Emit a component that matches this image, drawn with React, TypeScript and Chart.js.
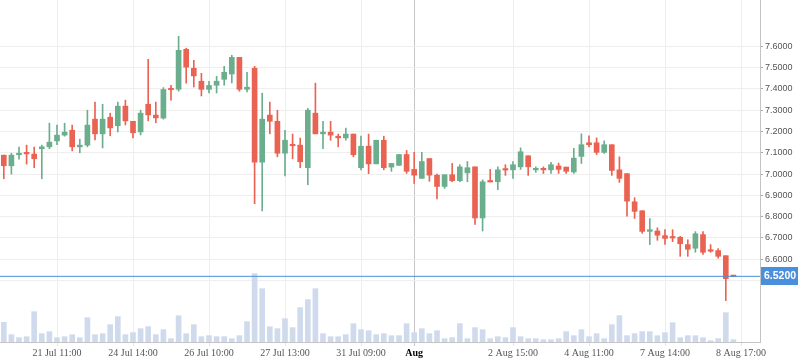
import React, { useEffect, useRef } from 'react';
import { Chart, registerables } from 'chart.js';
Chart.register(...registerables);

// Candle data (index = bar number, oldest first)
const opens = [
  7.089, 7.039, 7.091, 7.097, 7.094, 7.119, 7.128, 7.156, 7.183, 7.206,
  7.128, 7.136, 7.258, 7.189, 7.267, 7.227, 7.319, 7.248, 7.198, 7.328,
  7.277, 7.263, 7.398, 7.398, 7.586, 7.497, 7.436, 7.398, 7.417, 7.445,
  7.470, 7.548, 7.398, 7.497, 7.056, 7.277, 7.248, 7.098, 7.137, 7.136,
  7.030, 7.286, 7.189, 7.197, 7.178, 7.170, 7.188, 7.030, 7.131, 7.048,
  7.159, 7.033, 7.041, 7.092, 7.022, 6.980, 7.073, 6.995, 6.942, 6.997,
  6.969, 7.006, 7.034, 6.794, 6.966, 6.964, 7.021, 7.020, 7.034, 7.086,
  7.020, 7.023, 7.020, 7.038, 7.033, 7.010, 7.083, 7.147, 7.147, 7.102,
  7.138, 7.020, 7.002, 6.870, 6.828, 6.731, 6.733, 6.711, 6.702, 6.703,
  6.669, 6.652, 6.716, 6.640, 6.641, 6.617, 6.521,
];
const highs = [
  7.089, 7.098, 7.127, 7.136, 7.127, 7.136, 7.239, 7.230, 7.239, 7.230,
  7.164, 7.300, 7.338, 7.328, 7.286, 7.338, 7.347, 7.248, 7.300, 7.539,
  7.338, 7.406, 7.417, 7.647, 7.591, 7.534, 7.473, 7.436, 7.459, 7.506,
  7.558, 7.548, 7.478, 7.506, 7.380, 7.338, 7.300, 7.206, 7.188, 7.169,
  7.309, 7.427, 7.248, 7.248, 7.188, 7.216, 7.188, 7.178, 7.188, 7.159,
  7.178, 7.050, 7.092, 7.111, 7.102, 7.102, 7.073, 7.000, 6.997, 7.050,
  7.044, 7.059, 7.034, 6.973, 7.022, 7.034, 7.044, 7.059, 7.123, 7.086,
  7.034, 7.034, 7.055, 7.052, 7.033, 7.121, 7.189, 7.180, 7.170, 7.156,
  7.138, 7.081, 7.002, 6.889, 6.828, 6.791, 6.748, 6.739, 6.739, 6.708,
  6.692, 6.730, 6.730, 6.669, 6.650, 6.617, 6.522,
];
const lows = [
  6.978, 7.000, 7.070, 7.047, 7.030, 6.978, 7.119, 7.138, 7.178, 7.109,
  7.100, 7.128, 7.161, 7.123, 7.180, 7.198, 7.231, 7.170, 7.184, 7.250,
  7.241, 7.258, 7.347, 7.389, 7.427, 7.409, 7.367, 7.381, 7.381, 7.417,
  7.428, 7.389, 7.386, 6.861, 6.827, 7.189, 7.081, 6.992, 7.072, 7.030,
  6.950, 7.189, 7.119, 7.159, 7.128, 7.159, 7.081, 7.020, 7.002, 7.048,
  7.020, 7.013, 7.041, 7.003, 6.956, 6.980, 6.966, 6.884, 6.933, 6.964,
  6.964, 6.964, 6.764, 6.733, 6.963, 6.927, 6.994, 6.980, 7.022, 6.994,
  7.008, 7.003, 7.003, 7.003, 7.003, 7.003, 7.050, 7.128, 7.092, 7.097,
  6.994, 6.961, 6.802, 6.792, 6.722, 6.669, 6.689, 6.670, 6.683, 6.614,
  6.614, 6.633, 6.623, 6.633, 6.605, 6.406, 6.518,
];
const closes = [
  7.039, 7.089, 7.098, 7.095, 7.072, 7.128, 7.150, 7.183, 7.197, 7.128,
  7.136, 7.230, 7.189, 7.258, 7.217, 7.319, 7.250, 7.194, 7.286, 7.278,
  7.264, 7.397, 7.396, 7.581, 7.502, 7.461, 7.398, 7.416, 7.436, 7.478,
  7.548, 7.398, 7.408, 7.056, 7.258, 7.248, 7.098, 7.159, 7.133, 7.058,
  7.300, 7.189, 7.197, 7.183, 7.170, 7.188, 7.091, 7.131, 7.048, 7.159,
  7.030, 7.050, 7.092, 7.013, 6.995, 7.059, 6.995, 6.942, 6.997, 6.969,
  7.034, 7.030, 6.794, 6.964, 6.963, 7.020, 7.019, 7.044, 7.105, 7.034,
  7.023, 7.020, 7.044, 7.022, 7.013, 7.075, 7.138, 7.138, 7.102, 7.138,
  7.017, 6.980, 6.873, 6.825, 6.731, 6.739, 6.713, 6.698, 6.700, 6.673,
  6.647, 6.720, 6.633, 6.638, 6.614, 6.509, 6.519,
];
const volumes = [
  59, 22, 13, 16, 91, 25, 31, 13, 16, 22,
  13, 73, 22, 25, 52, 76, 22, 28, 40, 46,
  22, 37, 10, 79, 25, 52, 16, 19, 16, 16,
  10, 19, 61, 205, 160, 46, 40, 70, 43, 103,
  127, 160, 25, 16, 16, 22, 55, 37, 34, 22,
  25, 19, 19, 55, 28, 40, 25, 34, 10, 13,
  55, 10, 43, 37, 10, 16, 13, 43, 16, 10,
  10, 7, 7, 10, 31, 19, 37, 16, 25, 10,
  52, 79, 19, 25, 31, 31, 19, 28, 58, 13,
  19, 19, 13, 4, 10, 88, 7,
];

const tickPositions = [7, 17, 27, 37, 47, 54, 67, 77, 87, 97];
const tickLabels = [
  '21 Jul 11:00', '24 Jul 14:00', '26 Jul 10:00', '27 Jul 13:00', '31 Jul 09:00',
  'Aug', '2 Aug 15:00', '4 Aug 11:00', '7 Aug 14:00', '8 Aug 17:00',
];
const monthTick = 54;
const priceTicks = [6.5, 6.6, 6.7, 6.8, 6.9, 7.0, 7.1, 7.2, 7.3, 7.4, 7.5, 7.6];
const lastPrice = 6.52;

const GREEN = '#6bae8e';
const RED = '#ea6252';
const BLUE = '#4a8fdb';

const badgePlugin = {
  id: 'lastPriceBadge',
  afterDraw(chart: any) {
    const y = chart.scales.y.getPixelForValue(lastPrice);
    const x0 = chart.chartArea.right;
    const ctx = chart.ctx;
    ctx.save();
    ctx.fillStyle = BLUE;
    ctx.fillRect(x0 + 1, Math.round(y) - 9, 37, 18);
    ctx.fillStyle = '#ffffff';
    ctx.font = 'bold 10.5px "Liberation Sans"';
    ctx.textBaseline = 'middle';
    ctx.textAlign = 'left';
    ctx.fillText(lastPrice.toFixed(4), x0 + 4, Math.round(y) + 0.5);
    ctx.restore();
  },
};

export default function App() {
  const ref = useRef<HTMLCanvasElement>(null);
  useEffect(() => {
    document.body.style.margin = '0';
    const colors = opens.map((o, i) => (closes[i] >= o ? GREEN : RED));
    const chart = new Chart(ref.current!, {
      type: 'bar',
      data: {
        datasets: [
          {
            type: 'line',
            data: [{ x: -0.5, y: lastPrice }, { x: 99.5, y: lastPrice }],
            borderColor: BLUE,
            borderWidth: 1,
            pointRadius: 0,
            yAxisID: 'y',
            order: 0,
          } as any,
          {
            data: opens.map((o, i) => ({ x: i, y: [Math.min(o, closes[i]), Math.max(o, closes[i])] })),
            backgroundColor: colors,
            barThickness: 5,
            minBarLength: 1.5,
            grouped: false,
            yAxisID: 'y',
            order: 1,
          } as any,
          {
            data: lows.map((l, i) => ({ x: i, y: [l, highs[i]] })),
            backgroundColor: colors,
            barThickness: 1,
            grouped: false,
            yAxisID: 'y',
            order: 2,
          } as any,
          {
            data: volumes.map((v, i) => ({ x: i, y: v })),
            backgroundColor: '#cfdbec',
            barThickness: 5,
            grouped: false,
            yAxisID: 'yv',
            order: 3,
          } as any,
        ],
      },
      options: {
        responsive: false,
        animation: false,
        devicePixelRatio: 1,
        layout: { padding: 0 },
        plugins: { legend: { display: false }, tooltip: { enabled: false } },
        scales: {
          x: {
            type: 'linear',
            min: -0.5,
            max: 99.5,
            offset: false,
            afterBuildTicks: (s: any) => {
              s.ticks = tickPositions.map((v) => ({ value: v }));
            },
            afterFit: (s: any) => {
              s.height = 21;
              s.paddingLeft = 0;
              s.paddingRight = 0;
            },
            grid: {
              offset: false,
              color: (c: any) => (c.tick && c.tick.value === monthTick ? '#c6c6c6' : '#eeeeee'),
              tickColor: (c: any) => (c.tick && c.tick.value === monthTick ? '#c6c6c6' : '#e4e4e4'),
              tickLength: 4,
              lineWidth: 1,
            },
            border: { color: '#c4c4c4' },
            ticks: {
              autoSkip: false,
              maxRotation: 0,
              padding: 1,
              callback: (v: any) => {
                const k = tickPositions.indexOf(Number(v));
                return k >= 0 ? tickLabels[k] : '';
              },
              color: (c: any) => (c.tick && c.tick.value === monthTick ? '#000000' : '#555555'),
              font: (c: any) => ({
                family: '"Liberation Serif"',
                size: 10,
                weight: c.tick && c.tick.value === monthTick ? 'bold' : 'normal',
              }),
            },
          } as any,
          y: {
            type: 'linear',
            position: 'right',
            min: 6.2117,
            max: 7.8174,
            afterBuildTicks: (s: any) => {
              s.ticks = priceTicks.map((v) => ({ value: v }));
            },
            afterFit: (s: any) => {
              s.width = 38;
              s.paddingTop = 0;
              s.paddingBottom = 0;
            },
            grid: { color: '#eeeeee', tickColor: '#a8a8a8', tickLength: 3 },
            border: { color: '#c4c4c4' },
            ticks: {
              padding: 2,
              color: '#555555',
              font: { family: '"Liberation Sans"', size: 9 },
              callback: (v: any) => (Number(v) < 6.55 ? '' : Number(v).toFixed(4)),
            },
          } as any,
          yv: { type: 'linear', display: false, min: 0, max: 1026 } as any,
        },
      },
      plugins: [badgePlugin],
    });
    return () => chart.destroy();
  }, []);
  return (
    <div style={{ width: 798, height: 363 }}>
      <canvas ref={ref} width={798} height={363} style={{ display: 'block' }} />
    </div>
  );
}
